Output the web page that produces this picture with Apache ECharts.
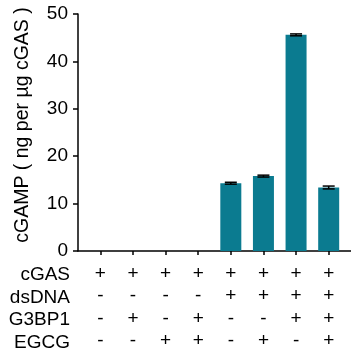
<!DOCTYPE html>
<html><head><meta charset="utf-8">
<script src="https://cdn.jsdelivr.net/npm/echarts@6/dist/echarts.min.js"></script>
<style>html,body{margin:0;padding:0;background:#fff}#c{width:351px;height:350px}</style>
</head><body><div id="c"></div>
<script>
var categories = ['1','2','3','4','5','6','7','8'];
var cGAS  = ['+','+','+','+','+','+','+','+'];
var dsDNA = ['-','-','-','-','+','+','+','+'];
var G3BP1 = ['-','+','-','+','-','-','+','+'];
var EGCG  = ['-','-','+','+','-','+','-','+'];
var values = [0, 0, 0, 0, 14.3, 15.8, 45.6, 13.4];
var errors = [0, 0, 0, 0, 0.2, 0.2, 0.2, 0.3];
var rowNames = ['cGAS','dsDNA','G3BP1','EGCG'];
var yTicks = [0, 10, 20, 30, 40, 50];

var FONT = 'Liberation Sans, Arial, sans-serif';
var chart = echarts.init(document.getElementById('c'), null, {renderer:'canvas'});
var rows = [cGAS, dsDNA, G3BP1, EGCG];
var errData = values.map(function(v,i){ return [i, v - errors[i], v + errors[i]]; }).filter(function(d,i){return errors[i]>0;});
var ROWH = 22.6;

chart.setOption({
  animation:false,
  grid:[{left:84, right:6, top:14, bottom:99, containLabel:false, outerBoundsMode:'none'},
        {left:78, right:0, top:14, bottom:99, containLabel:false, outerBoundsMode:'none'}],
  xAxis:[{
    type:'category', data:categories, gridIndex:0,
    axisLine:{show:false},
    axisTick:{show:true, alignWithLabel:true, length:4, lineStyle:{color:'#000', width:1.5}},
    axisLabel:{
      interval:0, margin:11, color:'#000', fontFamily:FONT, fontSize:19, lineHeight:ROWH,
      formatter:function(v, i){ return rows.map(function(r){return r[i];}).join('\n'); }
    }
  },{
    type:'value', gridIndex:1, min:0, max:1,
    axisLine:{show:true, lineStyle:{color:'#000', width:1.5}},
    axisTick:{show:false}, axisLabel:{show:false}, splitLine:{show:false}
  }],
  yAxis:[{
    type:'value', gridIndex:0, min:yTicks[0], max:yTicks[yTicks.length-1], interval:10, offset:6,
    name:'cGAMP ( ng per µg cGAS )', nameLocation:'middle', nameGap:45,
    nameTextStyle:{color:'#000', fontFamily:FONT, fontSize:19.5, padding:[0,0,0,15]},
    axisLine:{show:true, lineStyle:{color:'#000', width:1.5}},
    axisTick:{show:true, length:5, lineStyle:{color:'#000', width:1.5}},
    axisLabel:{color:'#000', fontFamily:FONT, fontSize:19, margin:10},
    splitLine:{show:false}
  },{
    type:'value', gridIndex:1, show:false
  }],
  graphic: rowNames.map(function(n, k){
    return {type:'text', x:70, y:275 + k*ROWH,
      style:{text:n, fill:'#000', font:'19px ' + FONT, align:'right', verticalAlign:'middle',
             textAlign:'right', textVerticalAlign:'middle'}};
  }),
  series:[{
    type:'bar', data:values, barWidth:21, xAxisIndex:0, yAxisIndex:0,
    itemStyle:{color:'#0b7b90'}
  },{
    type:'custom', xAxisIndex:0, yAxisIndex:0, data:errData, z:5,
    renderItem:function(params, api){
      var x = api.value(0);
      var lo = api.coord([x, api.value(1)]);
      var hi = api.coord([x, api.value(2)]);
      var hw = 6;
      return {type:'group', children:[
        {type:'line', shape:{x1:hi[0], y1:hi[1], x2:lo[0], y2:lo[1]}, style:{stroke:'#000', lineWidth:1.5}},
        {type:'line', shape:{x1:hi[0]-hw, y1:hi[1], x2:hi[0]+hw, y2:hi[1]}, style:{stroke:'#000', lineWidth:1.5}},
        {type:'line', shape:{x1:lo[0]-hw, y1:lo[1], x2:lo[0]+hw, y2:lo[1]}, style:{stroke:'#000', lineWidth:1.5}}
      ]};
    }
  }]
});
</script></body></html>
